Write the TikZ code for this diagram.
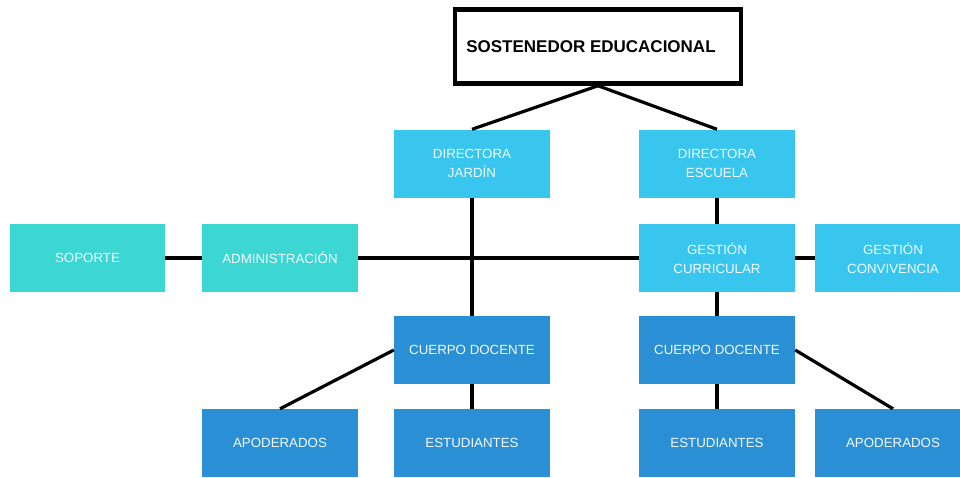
\documentclass[tikz,border=0pt]{standalone}
\usepackage{fontspec}
\setmainfont{Liberation Sans}
\definecolor{lblue}{HTML}{38C6EE}
\definecolor{teal2}{HTML}{3DD7D3}
\definecolor{dblue}{HTML}{2B8FD5}
\definecolor{txtw}{HTML}{F2FAFF}
\begin{document}
\begin{tikzpicture}[x=1pt,y=-1pt,
  box/.style={rectangle, minimum width=156pt, minimum height=68pt, inner sep=0pt,
    text=txtw, align=center, font=\fontsize{13.3}{19}\selectfont},
  boxl/.style={box, fill=lblue},
  boxt/.style={box, fill=teal2},
  boxd/.style={box, fill=dblue},
  topbox/.style={rectangle, draw=black, line width=4.5pt, fill=white,
    minimum width=286pt, minimum height=74pt, inner sep=0pt,
    font=\bfseries\fontsize{17}{20}\selectfont},
  conn/.style={draw=black, line width=3.2pt}]
\clip (0,0) rectangle (960,477);
\useasboundingbox (0,0) rectangle (960,477);
\fill[white] (0,0) rectangle (960,477);
\node[topbox] (sost) at (598,46.5) {\hspace*{-14pt}SOSTENEDOR EDUCACIONAL};
\node[boxl] (dj) at (472,163.5) {DIRECTORA\\JARDÍN};
\node[boxl] (de) at (717,163.5) {DIRECTORA\\ESCUELA};
\node[boxt, minimum width=155pt] (sop) at (87.5,258) {SOPORTE};
\node[boxt] (adm) at (280,258) {ADMINISTRACIÓN};
\node[boxl] (gc) at (717,258) {GESTIÓN\\CURRICULAR};
\node[boxl] (gcv) at (893,258) {GESTIÓN\\CONVIVENCIA};
\node[boxd] (cdl) at (472,350) {CUERPO DOCENTE};
\node[boxd] (cdr) at (717,350) {CUERPO DOCENTE};
\node[boxd] (apl) at (280,443) {APODERADOS};
\node[boxd] (esl) at (472,443) {ESTUDIANTES};
\node[boxd] (esr) at (717,443) {ESTUDIANTES};
\node[boxd] (apr) at (893,443) {APODERADOS};
\draw[conn] (sost.south) -- (dj.north);
\draw[conn] (sost.south) -- (de.north);
\draw[conn] (sop.east) -- (adm.west);
\draw[conn] (adm.east) -- (gc.west);
\draw[conn] (gc.east) -- (gcv.west);
\draw[conn] (dj.south) -- (cdl.north);
\draw[conn] (de.south) -- (gc.north);
\draw[conn] (gc.south) -- (cdr.north);
\draw[conn] (cdl.west) -- (apl.north);
\draw[conn] (cdl.south) -- (esl.north);
\draw[conn] (cdr.south) -- (esr.north);
\draw[conn] (cdr.east) -- (apr.north);
\end{tikzpicture}
\end{document}
